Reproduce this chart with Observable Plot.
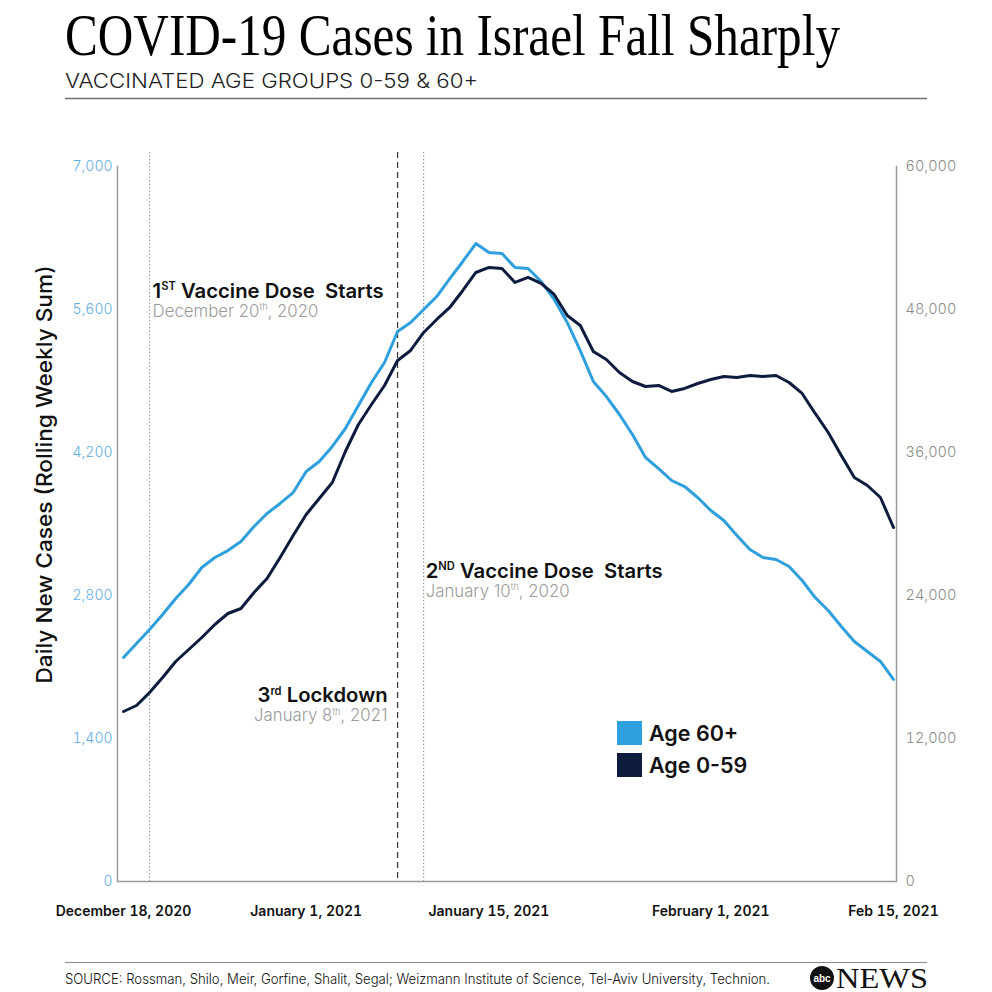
<!DOCTYPE html>
<html>
<head>
<meta charset="utf-8">
<script src="https://cdn.jsdelivr.net/npm/d3@7"></script>
<script src="https://cdn.jsdelivr.net/npm/@observablehq/plot@0.6"></script>
<style>
  html, body { margin: 0; padding: 0; background: #fff; }
  body { width: 992px; height: 992px; position: relative; overflow: hidden; font-family: Inter, "Noto Sans", sans-serif; }
  #header, #footer { position: absolute; left: 0; }
  #header { top: 0; }
  #chart { position: absolute; left: 0; top: 110px; }
  #footer { top: 950px; }
  #legend { position: absolute; left: 617px; top: 717px; }
  .lg-row { display: flex; align-items: center; height: 32px; }
  .lg-sw { width: 25px; height: 24px; margin-right: 7px; }
  .lg-tx { font-family: Inter, "Noto Sans", sans-serif; font-weight: 600; font-size: 21.5px; color: #111; letter-spacing: 0px; }
</style>
</head>
<body>
<svg id="header" width="992" height="110"></svg>
<div id="chart"></div>
<div id="legend"></div>
<svg id="footer" width="992" height="42"></svg>
<script>
// ---------- data ----------
const title = "COVID-19 Cases in Israel Fall Sharply";
const subtitle = "VACCINATED AGE GROUPS 0-59 & 60+";
const source = "SOURCE: Rossman, Shilo, Meir, Gorfine, Shalit, Segal; Weizmann Institute of Science, Tel-Aviv University, Technion.";
const yLabel = "Daily New Cases (Rolling Weekly Sum)";

const startDate = "2020-12-18"; // first daily value
const seriesNames = ["Age 60+", "Age 0-59"];
const seriesColors = ["#2f9fdd", "#0c1b3e"];

// Age 60+ (left axis)
const age60 = [2193,2330,2467,2614,2771,2908,3074,3172,3240,3329,3475,3603,3701,3808,4014,4112,4259,4435,4660,4885,
               5081,5385,5473,5600,5727,5903,6070,6246,6158,6148,6011,6001,5874,5698,5473,5198,4895,4748,4572,4376,
               4151,4043,3926,3867,3759,3632,3534,3387,3250,3172,3152,3084,2947,2780,2653,2496,2350,2252,2154,1978];
// Age 0-59 (right axis)
const age059 = [14266,14770,15861,17120,18462,19469,20476,21567,22491,22910,24253,25428,27190,29036,30799,32141,33484,36086,38351,40030,
                41624,43722,44562,46072,47163,48170,49597,51107,51527,51443,50268,50688,50184,49261,47499,46660,44478,43806,42715,41960,
                41540,41624,41121,41373,41792,42128,42380,42296,42464,42380,42464,41876,40953,39275,37680,35750,33904,33232,32225,29708];

const leftTicks = [0, 1400, 2800, 4200, 5600, 7000];
const rightTicks = [0, 12000, 24000, 36000, 48000, 60000];
const xTickDates = ["2020-12-18", "2021-01-01", "2021-01-15", "2021-02-01", "2021-02-15"];
const xTickLabels = ["December 18, 2020", "January 1, 2021", "January 15, 2021", "February 1, 2021", "Feb 15, 2021"];

const eventDates = ["2020-12-20", "2021-01-08", "2021-01-10"];
const eventTitles = ["1^ST Vaccine Dose  Starts", "3^rd Lockdown", "2^ND Vaccine Dose  Starts"];
const eventSubs = ["December 20^th, 2020", "January 8^th, 2021", "January 10^th, 2020"];

// ---------- build ----------
const NS = "http://www.w3.org/2000/svg";
const parse = s => new Date(s + "T00:00:00Z");
const dates = age60.map((_, i) => d3.utcDay.offset(parse(startDate), i));
const leftMax = d3.max(leftTicks), rightMax = d3.max(rightTicks);
const k = leftMax / rightMax;
const rows = [];
age60.forEach((v, i) => rows.push({date: dates[i], y: v, s: seriesNames[0]}));
age059.forEach((v, i) => rows.push({date: dates[i], y: v * k, s: seriesNames[1]}));
const tickLabelByTime = new Map(xTickDates.map((d, i) => [+parse(d), xTickLabels[i]]));
const fmt = d3.format(",");
const ev = eventDates.map(parse);

// annotation layout (style, not data)
const annLayout = [
  {anchor: "start", dx: 3,  dyT: 145,   dyS: 164},
  {anchor: "end",   dx: -10, dyT: 549.7, dyS: 568.7},
  {anchor: "start", dx: 2,  dyT: 425.3, dyS: 444}
];
const annMarks = [];
annLayout.forEach((L, i) => {
  annMarks.push(Plot.text([{date: ev[i], t: eventTitles[i]}], {
    x: "date", text: "t", frameAnchor: "top", dx: L.dx, dy: L.dyT, textAnchor: L.anchor, lineAnchor: "bottom",
    fontSize: 20.3, fontWeight: 600, fill: "#111"
  }));
  annMarks.push(Plot.text([{date: ev[i], t: eventSubs[i]}], {
    x: "date", text: "t", frameAnchor: "top", dx: L.dx, dy: L.dyS, textAnchor: L.anchor, lineAnchor: "bottom",
    fontSize: 16.8, fontWeight: 300, fill: "#9b9b9b"
  }));
});

const chart = Plot.plot({
  width: 992, height: 830,
  marginTop: 42, marginBottom: 59, marginLeft: 117, marginRight: 96,
  style: {fontFamily: "Inter, 'Noto Sans', sans-serif", background: "transparent", overflow: "visible"},
  x: {type: "utc", domain: [dates[0], dates[dates.length - 1]], insetLeft: 6, insetRight: 3},
  y: {domain: [0, leftMax], insetTop: 14},
  color: {domain: seriesNames, range: seriesColors},
  marks: [
    Plot.ruleX([ev[0], ev[2]], {stroke: "#8f8f8f", strokeWidth: 1, strokeDasharray: "1.5,2"}),
    Plot.ruleX([ev[1]], {stroke: "#333", strokeWidth: 1.2, strokeDasharray: "6,4"}),
    Plot.frame({anchor: "left", insetTop: 14, stroke: "#9a9a9a", strokeWidth: 1.5}),
    Plot.frame({anchor: "right", insetTop: 14, stroke: "#9a9a9a", strokeWidth: 1.5}),
    Plot.ruleY([0], {stroke: "#9a9a9a", strokeWidth: 1.5}),
    Plot.axisY(leftTicks, {anchor: "left", tickSize: 0, tickPadding: 5, label: null, fill: "#5eaee2",
      fontSize: 14, fontWeight: 300, tickFormat: fmt}),
    Plot.axisY(rightTicks.map(v => v * k), {anchor: "right", tickSize: 0, tickPadding: 9, label: null, fill: "#8a8a8a",
      fontSize: 14.5, fontWeight: 300, tickFormat: d => fmt(Math.round(d / k))}),
    Plot.axisX(xTickDates.map(parse), {tickSize: 0, tickPadding: 25, label: null, fill: "#111",
      fontSize: 14, fontWeight: 600, tickFormat: d => tickLabelByTime.get(+d)}),
    Plot.line(rows, {x: "date", y: "y", stroke: "s", z: "s", strokeWidth: 3}),
    ...annMarks,
    Plot.text([yLabel], {frameAnchor: "left", rotate: -90, dx: -65.5, dy: 166.5, textAnchor: "start", lineAnchor: "bottom",
      fontSize: 22, fontWeight: 500, fill: "#111"})
  ]
});
document.getElementById("chart").appendChild(chart);

// superscripts, spacing
chart.querySelectorAll("text").forEach(t => {
  const s = t.textContent;
  t.style.whiteSpace = "pre";
  if (s === yLabel) {
    t.setAttribute("textLength", 418);
    t.setAttribute("lengthAdjust", "spacingAndGlyphs");
  }
  const m = s.match(/^(.*?)\^([A-Za-z]+)(.*)$/);
  if (!m) return;
  const fs = parseFloat(getComputedStyle(t).fontSize) || 16;
  t.textContent = "";
  const a = document.createElementNS(NS, "tspan"); a.textContent = m[1];
  const b = document.createElementNS(NS, "tspan"); b.textContent = m[2];
  b.setAttribute("font-size", (fs * 0.55).toFixed(1));
  b.setAttribute("dy", (-fs * 0.38).toFixed(1));
  const c = document.createElementNS(NS, "tspan"); c.textContent = m[3];
  c.setAttribute("dy", (fs * 0.38).toFixed(1));
  t.append(a, b, c);
});

// header
const hdr = d3.select("#header");
hdr.append("text").attr("x", 65).attr("y", 55)
  .attr("font-family", "'Liberation Serif', 'DejaVu Serif', serif").attr("font-size", 60)
  .attr("textLength", 775).attr("lengthAdjust", "spacingAndGlyphs").attr("fill", "#000").text(title);
hdr.append("text").attr("x", 65).attr("y", 87.5)
  .attr("font-family", "Inter, 'Noto Sans', sans-serif").attr("font-weight", 300).attr("font-size", 20)
  .attr("textLength", 413).attr("lengthAdjust", "spacingAndGlyphs").attr("fill", "#222").text(subtitle);
hdr.append("line").attr("x1", 65).attr("x2", 927).attr("y1", 98.5).attr("y2", 98.5)
  .attr("stroke", "#6f6f6f").attr("stroke-width", 1.5);

// legend
const lg = d3.select("#legend");
seriesNames.forEach((n, i) => {
  const r = lg.append("div").attr("class", "lg-row");
  r.append("div").attr("class", "lg-sw").style("background", seriesColors[i]);
  r.append("div").attr("class", "lg-tx").text(n);
});

// footer
const ft = d3.select("#footer");
ft.append("line").attr("x1", 65).attr("x2", 927).attr("y1", 12.5).attr("y2", 12.5)
  .attr("stroke", "#8a8a8a").attr("stroke-width", 1.2);
ft.append("text").attr("x", 65).attr("y", 34)
  .attr("font-family", "Inter, 'Noto Sans', sans-serif").attr("font-weight", 300).attr("font-size", 14)
  .attr("textLength", 705).attr("lengthAdjust", "spacingAndGlyphs").attr("fill", "#111").text(source);
ft.append("circle").attr("cx", 822).attr("cy", 28).attr("r", 12).attr("fill", "#111");
ft.append("text").attr("x", 822).attr("y", 31.5).attr("text-anchor", "middle")
  .attr("font-family", "'Liberation Sans', Arial, sans-serif").attr("font-weight", 700).attr("font-size", 10)
  .attr("fill", "#fff").text("abc");
ft.append("text").attr("x", 836).attr("y", 38)
  .attr("font-family", "'Liberation Serif', serif").attr("font-size", 29)
  .attr("textLength", 92).attr("lengthAdjust", "spacingAndGlyphs").attr("fill", "#111").text("NEWS");
</script>
</body>
</html>
